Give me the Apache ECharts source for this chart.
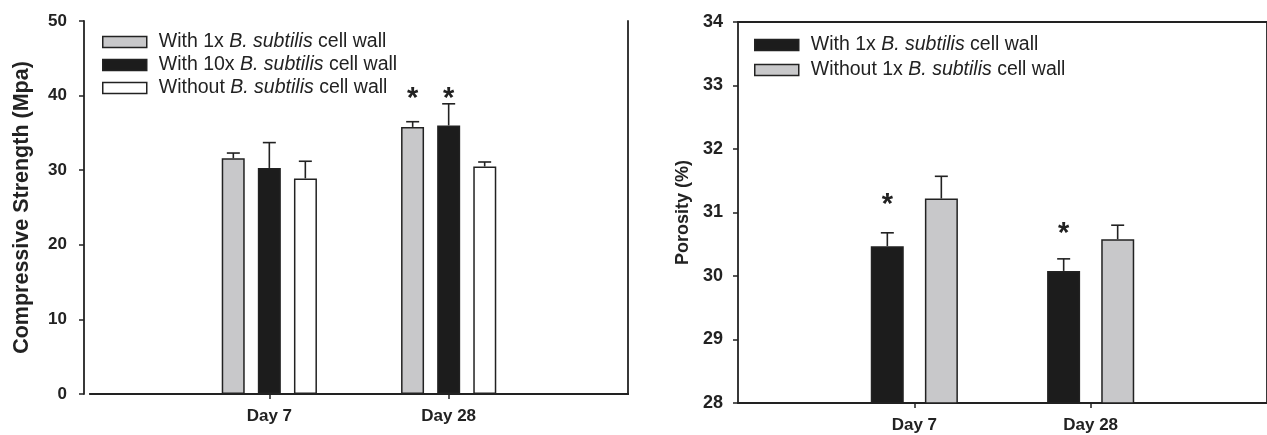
<!DOCTYPE html>
<html>
<head>
<meta charset="utf-8">
<script src="https://cdn.jsdelivr.net/npm/echarts@6/dist/echarts.min.js"></script>
<style>
  html, body { margin: 0; padding: 0; background: #fff; }
  #chart { width: 1267px; height: 435px; }
</style>
</head>
<body>
<div id="chart"></div>
<script>
// categories
var days = ['Day 7', 'Day 28'];

// left panel: compressive strength (MPa)
var strengthTicks = [0, 10, 20, 30, 40, 50];
var strength1x = [31.6, 35.8];
var strength1xErr = [32.3, 36.5];
var strength10x = [30.3, 36.0];
var strength10xErr = [33.7, 38.9];
var strengthNone = [28.9, 30.5];
var strengthNoneErr = [31.2, 31.1];
var strengthStar1x = [null, 40.4];
var strengthStar10x = [null, 40.4];

// right panel: porosity (%)
var porosityTicks = [28, 29, 30, 31, 32, 33, 34];
var porosityWith = [30.47, 30.08];
var porosityWithErr = [30.68, 30.27];
var porosityWithout = [31.22, 30.58];
var porosityWithoutErr = [31.57, 30.80];
var porosityStarWith = [31.21, 30.76];

var FONT = 'Liberation Sans';
var INK = '#222';
var GRAY = '#c8c8ca';
var BLACK = '#1c1c1c';

// pad the two days with empty slots so they sit at 1/3 and 2/3 of the axis
function pad(arr) { return [null].concat(arr, [null]); }
var axisDays = [''].concat(days, ['']);
function onlyDays(i) { return i > 0 && i <= days.length; }

var chartInst = echarts.init(document.getElementById('chart'));

function legendText(name) {
  return name.replace('B. subtilis', '{i|B. subtilis}');
}

// error bar (upper only) + significance star, shifted to its bar inside the group
function errSeries(name, grid, vals, errs, stars, slot, count, barW, gap) {
  var data = [];
  vals.forEach(function (v, i) {
    data.push([i + 1, v, errs[i], stars[i] == null ? '-' : stars[i]]);
  });
  return {
    name: name + ' err',
    type: 'custom',
    xAxisIndex: grid * 2,
    yAxisIndex: grid * 2,
    z: 5,
    silent: true,
    data: data,
    encode: { x: 0, y: 1 },
    renderItem: function (params, api) {
      var off = (slot - (count - 1) / 2) * (barW + gap);
      var base = api.coord([api.value(0), api.value(1)]);
      var top = api.coord([api.value(0), api.value(2)]);
      var x = base[0] + off;
      var kids = [
        { type: 'line', shape: { x1: x, y1: base[1], x2: x, y2: top[1] },
          style: { stroke: INK, lineWidth: 1.6 } },
        { type: 'line', shape: { x1: x - 6.5, y1: top[1], x2: x + 6.5, y2: top[1] },
          style: { stroke: INK, lineWidth: 1.6 } }
      ];
      var s = api.value(3);
      if (!isNaN(s)) {
        var sp = api.coord([api.value(0), s]);
        kids.push({ type: 'text', x: x, y: sp[1] + 6,
          style: { text: '*', fill: INK, font: 'bold 29px ' + FONT, align: 'center', verticalAlign: 'middle' } });
      }
      return { type: 'group', children: kids };
    }
  };
}

function barSeries(name, grid, vals, color, barW, gap) {
  return {
    name: name,
    type: 'bar',
    xAxisIndex: grid * 2,
    yAxisIndex: grid * 2,
    data: pad(vals),
    barWidth: barW,
    barGap: gap,
    itemStyle: { color: color, borderColor: INK, borderWidth: 1.5 },
    silent: true
  };
}

function bottomAxis(grid) {
  return {
    type: 'category',
    gridIndex: grid,
    data: axisDays,
    boundaryGap: false,
    axisLine: { lineStyle: { color: INK, width: 1.8 } },
    axisTick: { interval: onlyDays, length: 5, lineStyle: { color: INK, width: 1.5 } },
    axisLabel: { interval: onlyDays, color: INK, fontFamily: FONT, fontWeight: 'bold', fontSize: 17, margin: 14 },
    splitLine: { show: false }
  };
}
function topAxis(grid) {
  return {
    type: 'category', gridIndex: grid, position: 'top', data: axisDays, boundaryGap: false,
    axisLine: { lineStyle: { color: INK, width: 1.8 } },
    axisTick: { show: false }, axisLabel: { show: false }
  };
}
function rightAxis(grid, min, max) {
  return {
    type: 'value', gridIndex: grid, position: 'right', min: min, max: max,
    axisLine: { show: true, lineStyle: { color: INK, width: 1.8 } },
    axisTick: { show: false }, axisLabel: { show: false }, splitLine: { show: false }
  };
}
function leftAxis(grid, ticks, title, offset, fontSize, margin, titleSize, nameGap) {
  return {
    type: 'value', gridIndex: grid, min: ticks[0], max: ticks[ticks.length - 1],
    interval: ticks[1] - ticks[0], offset: offset,
    name: title, nameLocation: 'middle', nameGap: nameGap, nameRotate: 90,
    nameTextStyle: { color: INK, fontFamily: FONT, fontWeight: 'bold', fontSize: titleSize },
    axisLine: { show: true, lineStyle: { color: INK, width: 1.8 } },
    axisTick: { show: true, length: 5, lineStyle: { color: INK, width: 1.5 } },
    axisLabel: { color: INK, fontFamily: FONT, fontWeight: 'bold', fontSize: fontSize, margin: margin },
    splitLine: { show: false }
  };
}

var n1 = 'With 1x B. subtilis cell wall';
var n10 = 'With 10x B. subtilis cell wall';
var n0 = 'Without B. subtilis cell wall';
var nW = 'With 1x B. subtilis cell wall ';
var nWo = 'Without 1x B. subtilis cell wall';

var legendStyle = {
  color: INK, fontFamily: FONT, fontSize: 19.5, lineHeight: 20, padding: [0, 0, 0, 7],
  rich: { i: { fontStyle: 'italic', fontFamily: FONT, fontSize: 19.5, lineHeight: 20, color: INK } }
};

var option = {
  animation: false,
  grid: [
    { left: 90, top: 21, width: 538, height: 373 },
    { left: 738, top: 22, width: 530, height: 381 }
  ],
  legend: [
    {
      left: 97, top: 27, orient: 'vertical', itemWidth: 44, itemHeight: 11, itemGap: 3,
      selectedMode: false, icon: 'rect', formatter: legendText, textStyle: legendStyle,
      data: [
        { name: n1, itemStyle: { color: GRAY, borderColor: INK, borderWidth: 1.5 } },
        { name: n10, itemStyle: { color: BLACK, borderColor: INK, borderWidth: 1.5 } },
        { name: n0, itemStyle: { color: '#fff', borderColor: INK, borderWidth: 1.5 } }
      ]
    },
    {
      left: 749, top: 30, orient: 'vertical', itemWidth: 44, itemHeight: 11, itemGap: 5,
      selectedMode: false, icon: 'rect', formatter: legendText, textStyle: legendStyle,
      data: [
        { name: nW, itemStyle: { color: BLACK, borderColor: INK, borderWidth: 1.5 } },
        { name: nWo, itemStyle: { color: GRAY, borderColor: INK, borderWidth: 1.5 } }
      ]
    }
  ],
  xAxis: [bottomAxis(0), topAxis(0), bottomAxis(1), topAxis(1)],
  yAxis: [
    leftAxis(0, strengthTicks, 'Compressive Strength (Mpa)', 6, 17, 17, 21.5, 51),
    rightAxis(0, 0, 50),
    leftAxis(1, porosityTicks, 'Porosity (%)', 0, 18, 15, 18, 46),
    rightAxis(1, 28, 34)
  ],
  series: [
    barSeries(n1, 0, strength1x, GRAY, 23, '57%'),
    barSeries(n10, 0, strength10x, BLACK, 23, '57%'),
    barSeries(n0, 0, strengthNone, '#fff', 23, '57%'),
    errSeries(n1, 0, strength1x, strength1xErr, strengthStar1x, 0, 3, 23, 13),
    errSeries(n10, 0, strength10x, strength10xErr, strengthStar10x, 1, 3, 23, 13),
    errSeries(n0, 0, strengthNone, strengthNoneErr, [null, null], 2, 3, 23, 13),
    barSeries(nW, 1, porosityWith, BLACK, 33, '64%'),
    barSeries(nWo, 1, porosityWithout, GRAY, 33, '64%'),
    errSeries(nW, 1, porosityWith, porosityWithErr, porosityStarWith, 0, 2, 33, 21),
    errSeries(nWo, 1, porosityWithout, porosityWithoutErr, [null, null], 1, 2, 33, 21)
  ]
};

chartInst.setOption(option);
</script>
</body>
</html>
